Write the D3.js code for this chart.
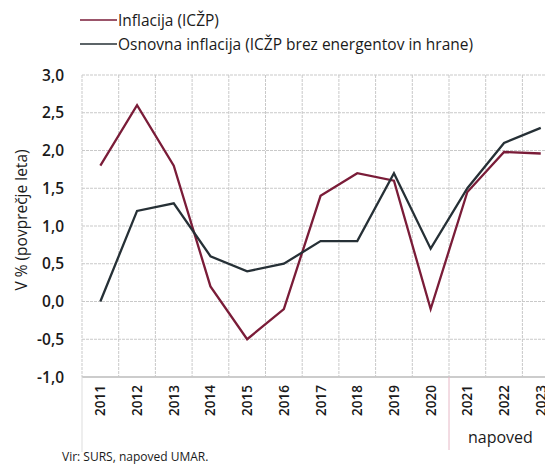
<!DOCTYPE html>
<html>
<head>
<meta charset="utf-8">
<script src="https://cdn.jsdelivr.net/npm/d3@7"></script>
<style>
  body { margin: 0; background: #fff; }
  svg text { font-family: "Open Sans", sans-serif; fill: #1a1a1a; }
</style>
</head>
<body>
<div id="chart"></div>
<script>
const years = ["2011", "2012", "2013", "2014", "2015", "2016", "2017", "2018", "2019", "2020", "2021", "2022", "2023"];
const inflation = [1.8, 2.6, 1.8, 0.2, -0.5, -0.1, 1.4, 1.7, 1.6, -0.1, 1.45, 1.98, 1.96];
const coreInflation = [0.0, 1.2, 1.3, 0.6, 0.4, 0.5, 0.8, 0.8, 1.7, 0.7, 1.5, 2.1, 2.3];
const yTicks = [-1, -0.5, 0, 0.5, 1, 1.5, 2, 2.5, 3];
const seriesNames = ["Inflacija (ICŽP)", "Osnovna inflacija (ICŽP brez energentov in hrane)"];

const colors = ["#7a1c38", "#263036"];

const width = 545, height = 465;
const plot = { left: 82, top: 75, bottom: 377, bandW: 36.7 };

let svg = d3.select("#chart").append("svg")
    .attr("width", width)
    .attr("height", height);

let x = d3.scaleBand()
    .domain(years)
    .range([plot.left, plot.left + plot.bandW * years.length])
    .padding(0);

let y = d3.scaleLinear()
    .domain([-1, 3])
    .range([plot.bottom, plot.top]);

const fmt = v => d3.format(".1f")(v).replace(".", ",").replace("−", "-");

// grid
let grid = svg.append("g");
grid.selectAll(".hgrid")
    .data(yTicks)
    .enter().append("line")
    .attr("x1", plot.left)
    .attr("x2", width)
    .attr("y1", d => y(d))
    .attr("y2", d => y(d))
    .attr("stroke", d => d === -1 ? "#999" : "#c9c9c9")
    .attr("stroke-width", 1)
    .attr("stroke-dasharray", d => d === -1 ? null : "3,1");

grid.selectAll(".vgrid")
    .data(years)
    .enter().append("line")
    .attr("x1", d => x(d))
    .attr("x2", d => x(d))
    .attr("y1", plot.top)
    .attr("y2", plot.bottom)
    .attr("stroke", "#c9c9c9")
    .attr("stroke-width", 1)
    .attr("stroke-dasharray", "3,1");

// lines below the axis: left edge and forecast separator
svg.append("line")
    .attr("x1", plot.left).attr("x2", plot.left)
    .attr("y1", plot.bottom).attr("y2", 452)
    .attr("stroke", "#ddd");
svg.append("line")
    .attr("x1", x("2021")).attr("x2", x("2021"))
    .attr("y1", plot.bottom).attr("y2", 450)
    .attr("stroke", "#e6b8c6");

// y axis labels
svg.append("g")
    .selectAll("text")
    .data(yTicks)
    .enter().append("text")
    .attr("x", 64)
    .attr("y", d => y(d) + 5.5)
    .attr("text-anchor", "end")
    .style("font-size", "15.5px")
    .style("font-weight", 600)
    .text(fmt);

svg.append("text")
    .attr("transform", "translate(27,220) rotate(-90)")
    .attr("text-anchor", "middle")
    .style("font-size", "15.5px")
    .style("font-weight", 500)
    .text("V % (povprečje leta)");

// x axis labels
svg.append("g")
    .selectAll("text")
    .data(years)
    .enter().append("text")
    .attr("transform", d => "translate(" + (x(d) + x.bandwidth() / 2 + 5) + ",385) rotate(-90)")
    .attr("text-anchor", "end")
    .style("font-size", "13.5px")
    .style("font-weight", 600)
    .text(d => d);

svg.append("text")
    .attr("x", 468)
    .attr("y", 443)
    .style("font-size", "16px")
    .style("font-weight", 500)
    .text("napoved");

svg.append("text")
    .attr("x", 62)
    .attr("y", 461)
    .style("font-size", "12px")
    .style("font-weight", 500)
    .text("Vir: SURS, napoved UMAR.");

// series
let line = d3.line()
    .x((d, i) => x(years[i]) + x.bandwidth() / 2)
    .y(d => y(d));

[inflation, coreInflation].forEach((s, i) => {
    svg.append("path")
        .datum(s)
        .attr("fill", "none")
        .attr("stroke", colors[i])
        .attr("stroke-width", 2.3)
        .attr("stroke-linejoin", "miter")
        .attr("d", line);
});

// legend
let legend = svg.append("g");
seriesNames.forEach((name, i) => {
    let ly = 20 + i * 24;
    legend.append("line")
        .attr("x1", 80).attr("x2", 117)
        .attr("y1", ly).attr("y2", ly)
        .attr("stroke", colors[i])
        .attr("stroke-width", 1.6);
    legend.append("text")
        .attr("x", 118)
        .attr("y", ly + 6)
        .style("font-size", "15.5px")
        .style("font-weight", 500)
        .text(name);
});
</script>
</body>
</html>
